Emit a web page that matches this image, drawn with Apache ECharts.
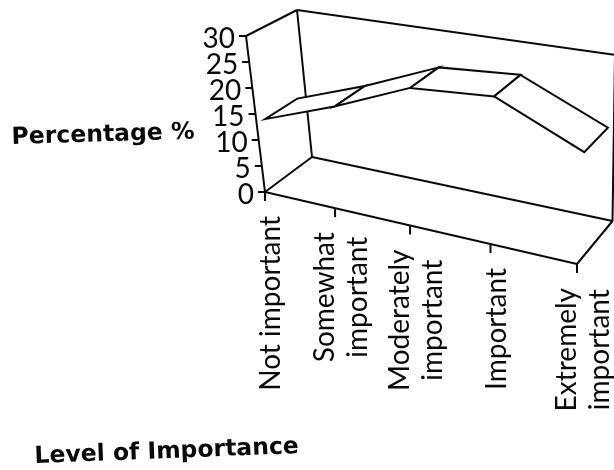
<!DOCTYPE html>
<html><head><meta charset="utf-8">
<style>html,body{margin:0;padding:0;background:#fff}#c{width:614px;height:470px}</style>
<script src="https://cdn.jsdelivr.net/npm/echarts@6/dist/echarts.min.js"></script>
</head><body><div id="c"></div>
<script>
const categories = ["Not important","Somewhat\nimportant","Moderately\nimportant","Important","Extremely\nimportant"];
const percentages = [13,18,24,25,18];
const yTicks = [0,5,10,15,20,25,30];
const yAxisTitle = "Percentage %";
const xAxisTitle = "Level of Importance";

// projection of the unit box (u across, z depth, h height) onto the page
const box = {F00:[265,192],F10:[577,264],F01:[312,157],F11:[612.5,221],T00:[246,36],T10:[579,88],T01:[297,10],T11:[615,55]};
const persp = 0.869, zFront = 0.17, zBack = 0.83;
const ink = '#0a0a0a', lw = 2;
const lerp=(a,b,t)=>[a[0]+(b[0]-a[0])*t,a[1]+(b[1]-a[1])*t];
function P(u,z,h){
  const w=persp*u/(1+(persp-1)*u);
  const base=lerp(lerp(box.F00,box.F10,w),lerp(box.F01,box.F11,w),z);
  const top=lerp(lerp(box.T00,box.T10,w),lerp(box.T01,box.T11,w),z);
  return lerp(base,top,h);
}
function norm(params,api,i,v){
  const c=api.coord([i,v]), s=params.coordSys;
  return [(c[0]-s.x)/s.width,(s.y+s.height-c[1])/s.height];
}
const line=(a,b,w)=>({type:'line',silent:true,shape:{x1:a[0],y1:a[1],x2:b[0],y2:b[1]},style:{stroke:ink,lineWidth:w||lw}});
const catFont='28px Lato', valFont='28px Lato', titleFont='bold 23.5px "DejaVu Sans"';
const meas=document.createElement('canvas').getContext('2d');

const option={
  animation:false,backgroundColor:'#fff',
  grid:{left:100,right:100,top:100,bottom:100},
  xAxis:{type:'category',data:categories,boundaryGap:false,show:false},
  yAxis:{type:'value',min:0,max:30,interval:5,show:false},
  graphic:[
    {type:'text',x:12,y:150,rotation:0.03,style:{text:yAxisTitle,font:titleFont,fill:ink,align:'left',verticalAlign:'bottom'}},
    {type:'text',x:35,y:469,rotation:0.038,style:{text:xAxisTitle,font:titleFont,fill:ink,align:'left',verticalAlign:'bottom'}}
  ],
  series:[
    {type:'custom',coordinateSystem:'cartesian2d',clip:false,silent:true,z:1,data:[[0,0]],
     renderItem(){
       return {type:'group',children:[
         line(box.F00,box.T00),line(box.T00,box.T01),line(box.T01,box.T11),line(box.T01,box.F01),
         line(box.F00,box.F01),line(box.F01,box.F11),line(box.F00,box.F10),line(box.F10,box.F11),line(box.F11,box.T11)
       ]};
     }},
    {type:'custom',coordinateSystem:'cartesian2d',clip:false,silent:true,z:2,
     data:percentages.map((v,i)=>[i,v]),
     renderItem(params,api){
       const i=api.value(0);
       if(i>=percentages.length-1) return null;
       const a=norm(params,api,i,api.value(1)), b=norm(params,api,i+1,percentages[i+1]);
       return {type:'polygon',silent:true,shape:{points:[P(a[0],zFront,a[1]),P(b[0],zFront,b[1]),P(b[0],zBack,b[1]),P(a[0],zBack,a[1])]},
         style:{fill:'#fff',stroke:ink,lineWidth:lw,lineJoin:'miter'}};
     }},
    {type:'custom',coordinateSystem:'cartesian2d',clip:false,silent:true,z:3,
     data:yTicks.map(v=>[0,v]),
     renderItem(params,api){
       const n=norm(params,api,0,api.value(1)), p=P(n[0],0,n[1]);
       return {type:'group',children:[
         line([p[0]-7,p[1]],p),
         {type:'text',silent:true,x:p[0]-11,y:p[1]+3,style:{text:String(api.value(1)),font:valFont,fill:ink,align:'right',verticalAlign:'middle'}}
       ]};
     }},
    {type:'custom',coordinateSystem:'cartesian2d',clip:false,silent:true,z:3,
     data:categories.map((c,i)=>[i,0]),
     renderItem(params,api){
       const i=api.value(0), n=norm(params,api,i,0), p=P(n[0],0,n[1]);
       meas.font=catFont;
       const longest=Math.max(...categories[i].split('\n').map(s=>meas.measureText(s).width));
       return {type:'group',children:[
         line(p,[p[0],p[1]+9]),
         {type:'text',silent:true,x:p[0]+6,y:p[1]+24+longest/2,rotation:Math.PI/2,
          style:{text:categories[i],font:catFont,fill:ink,align:'center',verticalAlign:'middle',lineHeight:33}}
       ]};
     }}
  ]
};
echarts.init(document.getElementById('c'),null,{renderer:'canvas'}).setOption(option);
</script></body></html>
